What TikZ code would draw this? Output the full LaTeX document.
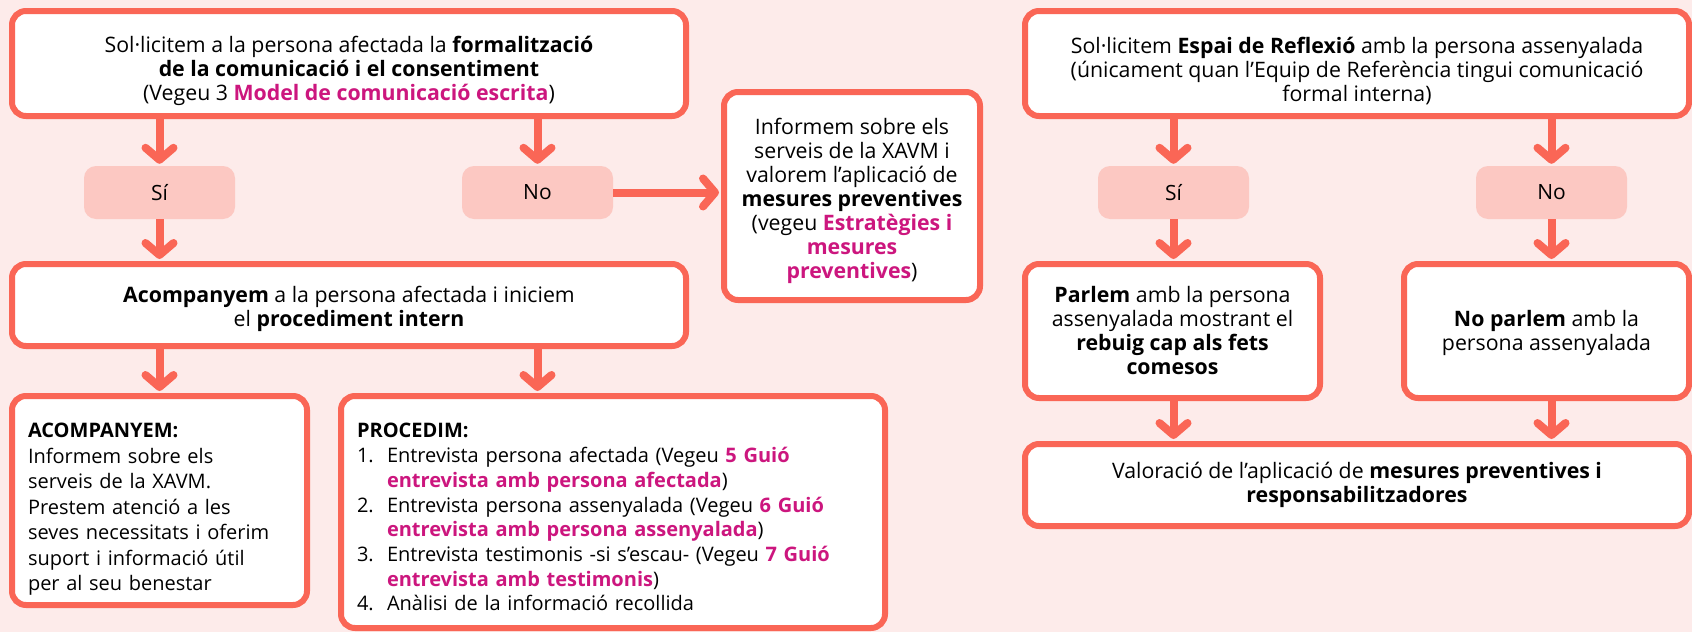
\documentclass[tikz,border=0pt]{standalone}
\usepackage{fontspec}
\IfFontExistsTF{Noto Sans Bold}
  {\setmainfont{Noto Sans}[BoldFont={Noto Sans Bold}]}
  {\setmainfont{Open Sans}}
\usetikzlibrary{positioning,arrows.meta}
\definecolor{coralLine}{RGB}{250,102,86}
\definecolor{bgPink}{RGB}{253,235,234}
\definecolor{pillPink}{RGB}{252,200,194}
\definecolor{linkMag}{RGB}{204,22,126}
\newcommand{\lnk}[1]{\textcolor{linkMag}{\textbf{#1}}}
\newcommand{\itm}[1]{\makebox[30pt][l]{#1}}
\newcommand{\topgap}[1]{\rule{0pt}{#1}}

\begin{document}
\begin{tikzpicture}[x=1pt,y=1pt,node distance=378pt,
    >={Straight Barb[round,length=12pt,width=28pt]}]
  \useasboundingbox (0,0) rectangle (1692,-632);
  \fill[bgPink] (0,0) rectangle (1692,-632);
  \tikzset{
    box/.style={rectangle,draw=coralLine,line width=6pt,fill=white,rounded corners=14pt,
      align=center,inner sep=0pt,font=\fontsize{21.3}{24}\selectfont},
    pill/.style={rectangle,fill=pillPink,rounded corners=12pt,minimum width=151pt,
      minimum height=53pt,font=\fontsize{21}{24}\selectfont},
    listBox/.style={box,align=left},
    % edge styles
    flow/.style={->,draw=coralLine,line width=8pt,shorten >=2pt}
  }

  %%% Communication with the affected person

  \node[box,minimum width=674pt,minimum height=105pt] (solA) at (349,-63.5)
    {\topgap{31pt}Sol·licitem a la persona afectada la \textbf{formalització}\\
     \textbf{de la comunicació i el consentiment}\\
     (Vegeu 3 \lnk{Model de comunicació escrita})};

  \node[pill] (siA) at (159.5,-192.5) {Sí};
  \node[pill] (noA) [right of=siA] {No};

  \node[box,minimum width=256pt,minimum height=208pt] (infoA) at (852,-196)
    {\topgap{27pt}Informem sobre els\\ serveis de la XAVM i\\ valorem l’aplicació de\\
     \textbf{mesures preventives}\\ (vegeu \lnk{Estratègies i}\\
     \lnk{mesures}\\ \lnk{preventives})};

  \node[box,minimum width=674pt,minimum height=82pt] (acompA) at (349,-305)
    {\topgap{25pt}\textbf{Acompanyem} a la persona afectada i iniciem\\
     el \textbf{procediment intern}};

  \node[listBox,text width=263pt,inner xsep=16pt,minimum height=209pt,
    font=\fontsize{20}{25.5}\selectfont] (acompList) at (159.5,-500.5)
    {\topgap{32pt}\textbf{ACOMPANYEM:}\\ Informem sobre els\\ serveis de la XAVM.\\
     Prestem atenció a les\\ seves necessitats i oferim\\ suport i informació útil\\
     per al seu benestar};

  \node[listBox,text width=512pt,inner xsep=16pt,minimum height=232pt,
    font=\fontsize{20}{24.7}\selectfont] (procList) at (613,-512)
    {\topgap{25pt}\textbf{PROCEDIM:}\\
     \itm{1.}Entrevista persona afectada (Vegeu \lnk{5 Guió}\\
     \itm{}\lnk{entrevista amb persona afectada})\\
     \itm{2.}Entrevista persona assenyalada (Vegeu \lnk{6 Guió}\\
     \itm{}\lnk{entrevista amb persona assenyalada})\\
     \itm{3.}Entrevista testimonis -si s’escau- (Vegeu \lnk{7 Guió}\\
     \itm{}\lnk{entrevista amb testimonis})\\
     \itm{4.}Anàlisi de la informació recollida};

  \draw[flow] (siA |- solA.south) -- (siA.north);
  \draw[flow] (noA |- solA.south) -- (noA.north);
  \draw[flow] (noA.east) -- (infoA.west |- noA.east);
  \draw[flow] (siA.south) -- (siA |- acompA.north);
  \draw[flow] (siA |- acompA.south) -- (acompList.north);
  \draw[flow] (noA |- acompA.south) -- (noA |- procList.north);

  %%% Reflection space with the signalled person

  \node[box,minimum width=664pt,minimum height=105pt] (solB) at (1357,-63.5)
    {\topgap{31pt}Sol·licitem \textbf{Espai de Reflexió} amb la persona assenyalada\\
     (únicament quan l’Equip de Referència tingui comunicació\\
     formal interna)};

  \node[pill] (siB) at (1173.5,-192.5) {Sí};
  \node[pill] (noB) [right of=siB] {No};

  \node[box,minimum width=295pt,minimum height=134pt] (parlemB) at (1172.5,-331)
    {\textbf{Parlem} amb la persona\\ assenyalada mostrant el\\
     \textbf{rebuig cap als fets}\\ \textbf{comesos}};

  \node[box,minimum width=285pt,minimum height=134pt] (noParlemB) at (1546.5,-331)
    {\topgap{20pt}\textbf{No parlem} amb la\\ persona assenyalada};

  \node[box,minimum width=664pt,minimum height=82pt] (valorB) at (1357,-485)
    {Valoració de l’aplicació de \textbf{mesures preventives i}\\
     \textbf{responsabilitzadores}};

  \draw[flow] (siB |- solB.south) -- (siB.north);
  \draw[flow] (noB |- solB.south) -- (noB.north);
  \draw[flow] (siB.south) -- (siB |- parlemB.north);
  \draw[flow] (noB.south) -- (noB |- noParlemB.north);
  \draw[flow] (siB |- parlemB.south) -- (siB |- valorB.north);
  \draw[flow] (noB |- noParlemB.south) -- (noB |- valorB.north);

\end{tikzpicture}
\end{document}
